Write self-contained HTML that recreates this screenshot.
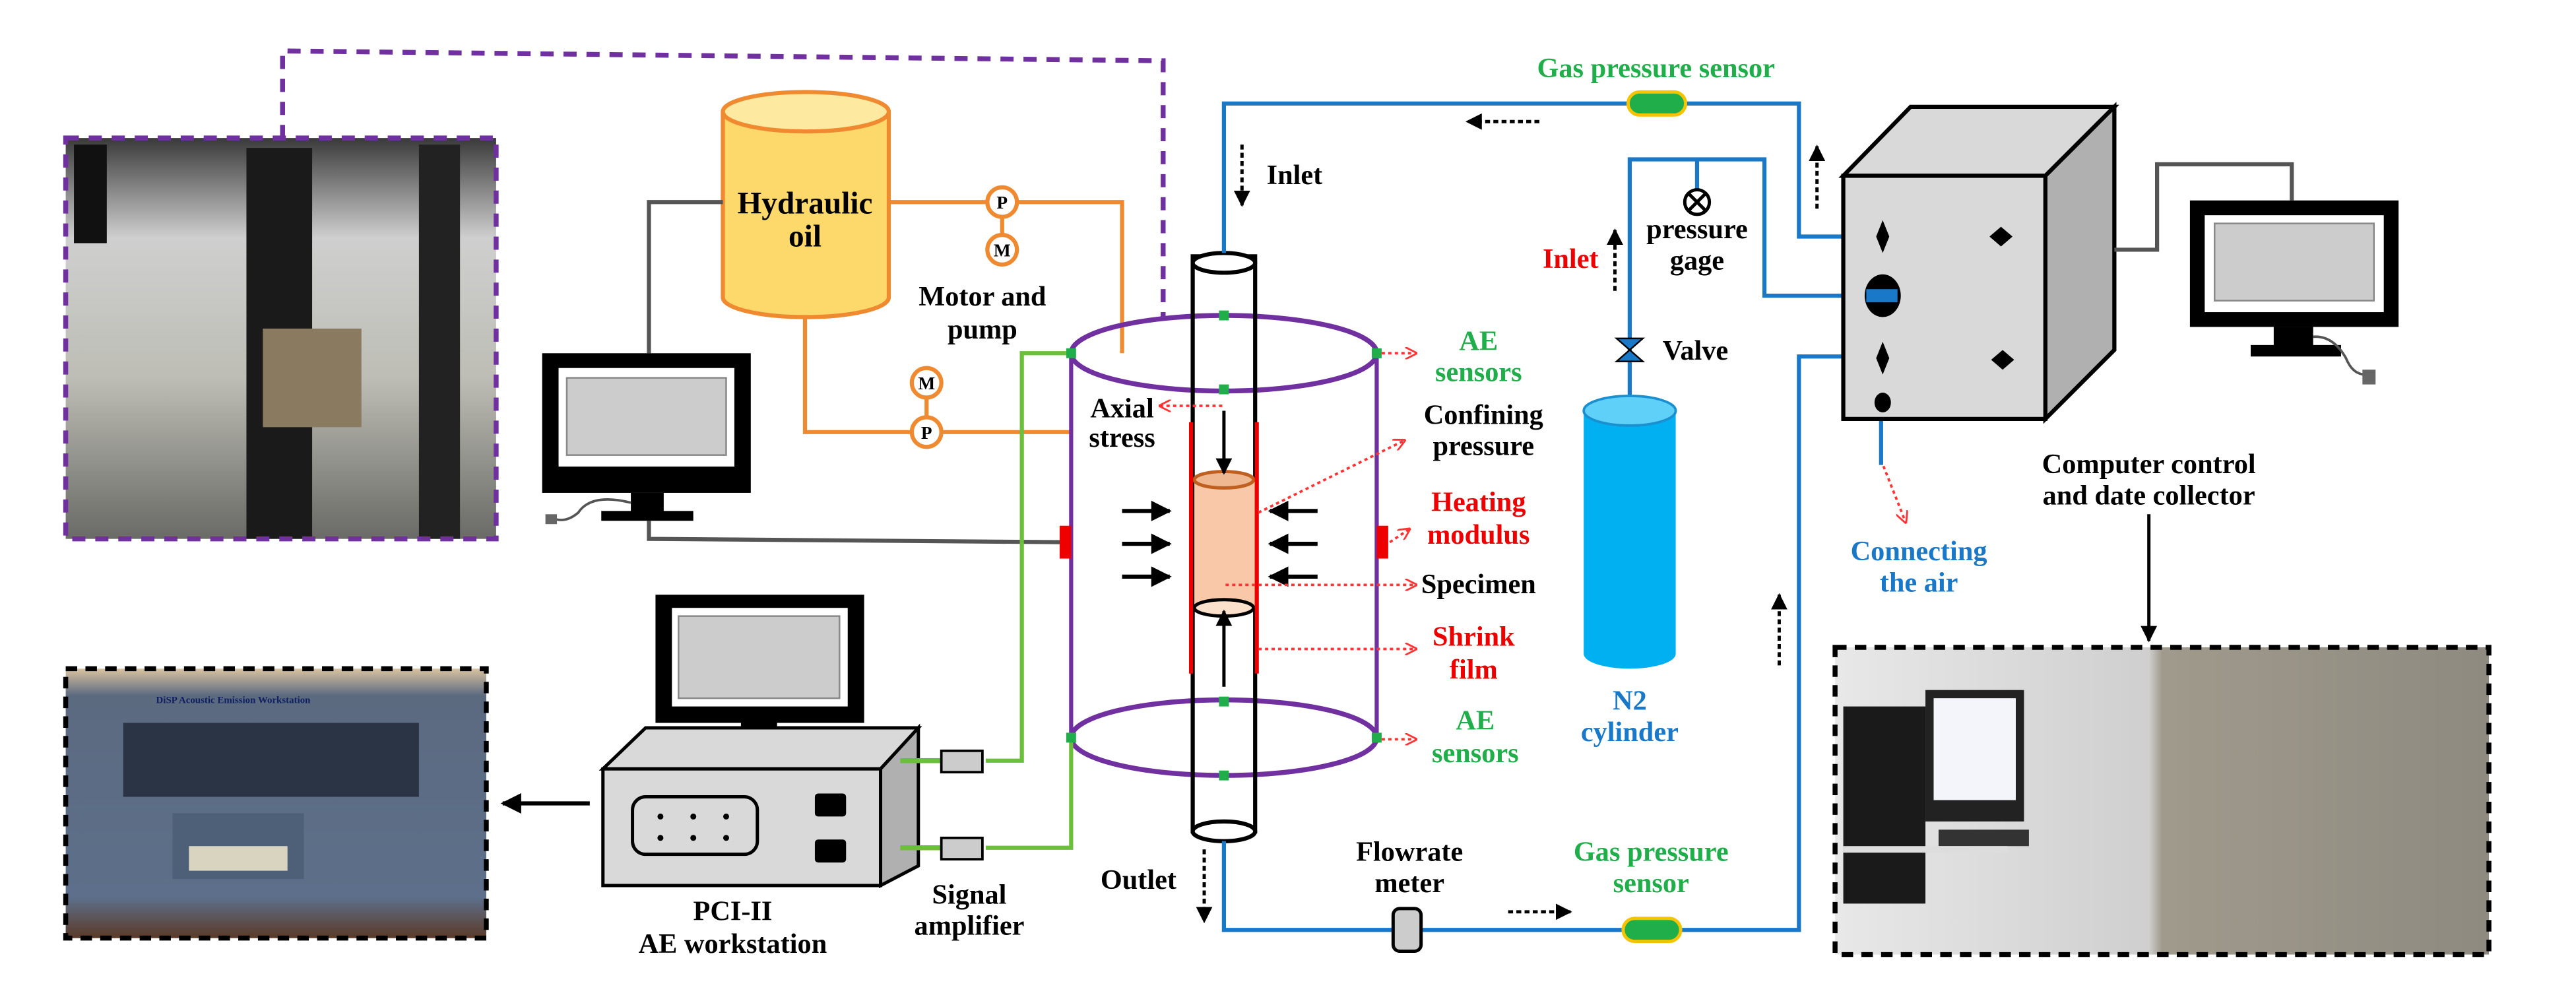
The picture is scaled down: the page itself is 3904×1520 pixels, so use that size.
<!DOCTYPE html>
<html><head><meta charset="utf-8"><style>
html,body{margin:0;padding:0;background:#fff;}
svg{display:block;}
text{font-family:"Liberation Serif",serif;font-weight:bold;}
</style></head><body>
<svg width="3904" height="1520" viewBox="0 0 1568 610.5" preserveAspectRatio="none" xmlns="http://www.w3.org/2000/svg">
<defs>
<marker id="ab" viewBox="0 0 10 10" refX="9" refY="5" markerWidth="6" markerHeight="6" orient="auto"><path d="M0,0 L10,5 L0,10 z" fill="#000"/></marker>
<marker id="ar" viewBox="0 0 10 10" refX="9" refY="5" markerWidth="5" markerHeight="5" orient="auto"><path d="M0,0 L10,5 L0,10" fill="none" stroke="#f33" stroke-width="1.5"/></marker>
<marker id="ak" viewBox="0 0 10 10" refX="9" refY="5" markerWidth="5" markerHeight="5" orient="auto"><path d="M0,0 L10,5 L0,10 z" fill="#000"/></marker>
<linearGradient id="ph1" x1="0" y1="0" x2="0" y2="1"><stop offset="0" stop-color="#3a3a3a"/><stop offset="0.25" stop-color="#cfcfcf"/><stop offset="0.6" stop-color="#bdbdb5"/><stop offset="1" stop-color="#6a6a66"/></linearGradient>
<linearGradient id="ph2" x1="0" y1="0" x2="0" y2="1"><stop offset="0" stop-color="#d9c3a0"/><stop offset="0.1" stop-color="#5c6a80"/><stop offset="0.85" stop-color="#5d6f8a"/><stop offset="1" stop-color="#5a3a28"/></linearGradient>
<linearGradient id="ph3" x1="0" y1="0" x2="1" y2="0"><stop offset="0" stop-color="#e8e8e8"/><stop offset="0.48" stop-color="#cfcfcf"/><stop offset="0.5" stop-color="#a09a8c"/><stop offset="1" stop-color="#8e8a80"/></linearGradient>
</defs>

<!-- left photo -->
<rect x="40" y="84" width="262" height="244" fill="url(#ph1)"/>
<rect x="150" y="90" width="40" height="238" fill="#1a1a1a"/>
<rect x="160" y="200" width="60" height="60" fill="#8a7a60"/>
<rect x="45" y="88" width="20" height="60" fill="#111"/>
<rect x="255" y="88" width="25" height="240" fill="#222"/>
<rect x="40" y="84" width="262" height="244" fill="none" stroke="#7030a0" stroke-width="3" stroke-dasharray="8,6"/>
<polyline points="172,84 172,31 708,37 708,193" fill="none" stroke="#7030a0" stroke-width="3" stroke-dasharray="8,6"/>

<!-- hydraulic oil -->
<path d="M440,68 L440,181 A50.5,12 0 0 0 541,181 L541,68" fill="#fcd96a" stroke="#f08a30" stroke-width="2.5"/>
<ellipse cx="490.5" cy="68" rx="50.5" ry="12" fill="#fde9a0" stroke="#f08a30" stroke-width="2.5"/>
<text x="490" y="130" font-size="19" text-anchor="middle">Hydraulic</text>
<text x="490" y="150" font-size="19" text-anchor="middle">oil</text>
<polyline points="440,123 395,123 395,215" fill="none" stroke="#555" stroke-width="2.5"/>
<polyline points="541,123 683,123 683,215" fill="none" stroke="#f08a30" stroke-width="2.5"/>
<line x1="610" y1="123" x2="610" y2="152" stroke="#f08a30" stroke-width="2.5"/>
<ellipse cx="610" cy="123" rx="9" ry="9" fill="#fff" stroke="#f08a30" stroke-width="2.5"/><text x="610" y="127" font-size="11" text-anchor="middle">P</text>
<ellipse cx="610" cy="152" rx="9" ry="9" fill="#fff" stroke="#f08a30" stroke-width="2.5"/><text x="610" y="156" font-size="11" text-anchor="middle">M</text>
<text x="598" y="186" font-size="17" text-anchor="middle">Motor and</text>
<text x="598" y="206" font-size="17" text-anchor="middle">pump</text>
<polyline points="490,193 490,263 652,263" fill="none" stroke="#f08a30" stroke-width="2.5"/>
<line x1="564" y1="233" x2="564" y2="263" stroke="#f08a30" stroke-width="2.5"/>
<ellipse cx="564" cy="233" rx="9" ry="9" fill="#fff" stroke="#f08a30" stroke-width="2.5"/><text x="564" y="237" font-size="11" text-anchor="middle">M</text>
<ellipse cx="564" cy="263" rx="9" ry="9" fill="#fff" stroke="#f08a30" stroke-width="2.5"/><text x="564" y="267" font-size="11" text-anchor="middle">P</text>

<!-- left monitor -->
<rect x="330" y="215" width="127" height="85" fill="#000"/>
<rect x="340" y="224" width="107" height="60" fill="#fff"/>
<rect x="345" y="230" width="97" height="47" fill="#ccc" stroke="#888"/>
<rect x="384" y="300" width="20" height="12" fill="#000"/>
<rect x="366" y="311" width="56" height="6" fill="#000"/>
<path d="M384,306 Q360,300 352,312 Q345,318 338,316" fill="none" stroke="#555" stroke-width="1.5"/>
<rect x="332" y="313" width="7" height="6" fill="#666"/>
<polyline points="395,317 395,328 646,330" fill="none" stroke="#555" stroke-width="2.5"/>

<!-- cell -->
<line x1="652" y1="215" x2="652" y2="449" stroke="#7030a0" stroke-width="2.5"/>
<line x1="838" y1="215" x2="838" y2="449" stroke="#7030a0" stroke-width="2.5"/>
<ellipse cx="745" cy="215" rx="93" ry="23" fill="none" stroke="#7030a0" stroke-width="3"/>
<ellipse cx="745" cy="449" rx="93" ry="23" fill="none" stroke="#7030a0" stroke-width="3"/>
<!-- tube -->
<rect x="726" y="156" width="38" height="350" fill="#fff" fill-opacity="0" stroke="#000" stroke-width="2.5"/>
<ellipse cx="745" cy="160" rx="19" ry="6" fill="#fff" stroke="#000" stroke-width="2.5"/>
<ellipse cx="745" cy="506" rx="19" ry="6" fill="#fff" stroke="#000" stroke-width="2.5"/>
<rect x="727" y="292" width="37" height="77" fill="#f8c8a8"/>
<ellipse cx="745" cy="292" rx="18" ry="5" fill="#f0b890" stroke="#c06020" stroke-width="2"/>
<ellipse cx="745" cy="370" rx="18" ry="5" fill="#fbe0cc" stroke="#000" stroke-width="2"/>
<line x1="725" y1="257" x2="725" y2="410" stroke="#e00" stroke-width="2.5"/>
<line x1="765" y1="257" x2="765" y2="410" stroke="#e00" stroke-width="2.5"/>
<line x1="745" y1="250" x2="745" y2="288" stroke="#000" stroke-width="2" marker-end="url(#ak)"/>
<line x1="745" y1="418" x2="745" y2="372" stroke="#000" stroke-width="2" marker-end="url(#ak)"/>
<g stroke="#000" stroke-width="2.5">
<line x1="683" y1="311" x2="712" y2="311" marker-end="url(#ak)"/>
<line x1="683" y1="331" x2="712" y2="331" marker-end="url(#ak)"/>
<line x1="683" y1="351" x2="712" y2="351" marker-end="url(#ak)"/>
<line x1="802" y1="311" x2="773" y2="311" marker-end="url(#ak)"/>
<line x1="802" y1="331" x2="773" y2="331" marker-end="url(#ak)"/>
<line x1="802" y1="351" x2="773" y2="351" marker-end="url(#ak)"/>
</g>
<rect x="645" y="320" width="7" height="20" fill="#e00"/>
<rect x="838" y="320" width="7" height="20" fill="#e00"/>
<g fill="#1fae4a">
<rect x="649" y="212" width="6" height="6"/><rect x="835" y="212" width="6" height="6"/>
<rect x="742" y="189" width="6" height="6"/><rect x="742" y="234" width="6" height="6"/>
<rect x="649" y="446" width="6" height="6"/><rect x="835" y="446" width="6" height="6"/>
<rect x="742" y="424" width="6" height="6"/><rect x="742" y="469" width="6" height="6"/>
</g>

<!-- red dotted annotation arrows -->
<g stroke="#f33" stroke-width="1.5" stroke-dasharray="2,2" fill="none" marker-end="url(#ar)">
<line x1="744" y1="247" x2="706" y2="247"/>
<line x1="841" y1="215" x2="862" y2="215"/>
<line x1="766" y1="312" x2="855" y2="268"/>
<line x1="846" y1="330" x2="858" y2="322"/>
<line x1="746" y1="356" x2="862" y2="356"/>
<line x1="766" y1="395" x2="862" y2="395"/>
<line x1="841" y1="450" x2="862" y2="450"/>
<line x1="1145" y1="280" x2="1160" y2="318"/>
</g>
<text x="683" y="254" font-size="17" text-anchor="middle">Axial</text>
<text x="683" y="272" font-size="17" text-anchor="middle">stress</text>
<text x="900" y="213" font-size="17" text-anchor="middle" fill="#1fae4a">AE</text>
<text x="900" y="232" font-size="17" text-anchor="middle" fill="#1fae4a">sensors</text>
<text x="903" y="258" font-size="17" text-anchor="middle">Confining</text>
<text x="903" y="277" font-size="17" text-anchor="middle">pressure</text>
<text x="900" y="311" font-size="17" text-anchor="middle" fill="#e00">Heating</text>
<text x="900" y="331" font-size="17" text-anchor="middle" fill="#e00">modulus</text>
<text x="900" y="361" font-size="17" text-anchor="middle">Specimen</text>
<text x="897" y="393" font-size="17" text-anchor="middle" fill="#e00">Shrink</text>
<text x="897" y="413" font-size="17" text-anchor="middle" fill="#e00">film</text>
<text x="898" y="444" font-size="17" text-anchor="middle" fill="#1fae4a">AE</text>
<text x="898" y="464" font-size="17" text-anchor="middle" fill="#1fae4a">sensors</text>

<!-- blue gas lines -->
<g fill="none" stroke="#1a78c8" stroke-width="2.5">
<polyline points="745,154 745,63 1095,63 1095,144 1122,144"/>
<polyline points="992,245 992,97 1074,97 1074,180 1122,180"/>
<line x1="1033" y1="97" x2="1033" y2="115"/>
<polyline points="1122,217 1095,217 1095,566 745,566 745,512"/>
<line x1="1145" y1="255" x2="1145" y2="283"/>
</g>
<rect x="991" y="56" width="35" height="14" rx="7" fill="#1fae4a" stroke="#f5c400" stroke-width="2"/>
<rect x="988" y="559" width="35" height="14" rx="7" fill="#1fae4a" stroke="#f5c400" stroke-width="2"/>
<rect x="848" y="553" width="17" height="26" rx="4" fill="#ccc" stroke="#000" stroke-width="2"/>
<text x="1008" y="47" font-size="17" text-anchor="middle" fill="#1fae4a">Gas pressure sensor</text>
<text x="1005" y="524" font-size="17" text-anchor="middle" fill="#1fae4a">Gas pressure</text>
<text x="1005" y="543" font-size="17" text-anchor="middle" fill="#1fae4a">sensor</text>
<text x="858" y="524" font-size="17" text-anchor="middle">Flowrate</text>
<text x="858" y="543" font-size="17" text-anchor="middle">meter</text>
<text x="693" y="541" font-size="17" text-anchor="middle">Outlet</text>
<text x="771" y="112" font-size="17">Inlet</text>
<g stroke="#000" stroke-width="2" stroke-dasharray="3,2" fill="none" marker-end="url(#ak)">
<line x1="937" y1="74" x2="893" y2="74"/>
<line x1="756" y1="88" x2="756" y2="125"/>
<line x1="1106" y1="127" x2="1106" y2="89"/>
<line x1="983" y1="177" x2="983" y2="140"/>
<line x1="733" y1="517" x2="733" y2="561"/>
<line x1="918" y1="555" x2="956" y2="555"/>
<line x1="1083" y1="405" x2="1083" y2="362"/>
</g>
<!-- pressure gage -->
<circle cx="1033" cy="123" r="7.5" fill="#fff" stroke="#000" stroke-width="2"/>
<path d="M1028,118 L1038,128 M1038,118 L1028,128" stroke="#000" stroke-width="2"/>
<text x="1033" y="145" font-size="17" text-anchor="middle">pressure</text>
<text x="1033" y="164" font-size="17" text-anchor="middle">gage</text>
<text x="973" y="163" font-size="17" text-anchor="end" fill="#e00">Inlet</text>
<!-- valve -->
<path d="M984,206 L1000,206 L984,220 L1000,220 Z" fill="#1a78c8" stroke="#000" stroke-width="1"/>
<text x="1012" y="219" font-size="17">Valve</text>
<!-- N2 -->
<path d="M964,250 L964,398 A28,9 0 0 0 1020,398 L1020,250" fill="#00b0f0"/>
<ellipse cx="992" cy="250" rx="28" ry="9" fill="#5fd0f7" stroke="#1a90d0" stroke-width="1.5"/>
<text x="992" y="432" font-size="17" text-anchor="middle" fill="#1a78c8">N2</text>
<text x="992" y="451" font-size="17" text-anchor="middle" fill="#1a78c8">cylinder</text>

<!-- control box -->
<polygon points="1122,107 1163,65 1287,65 1245,107" fill="#d9d9d9" stroke="#000" stroke-width="2.5"/>
<polygon points="1245,107 1287,65 1287,213 1245,255" fill="#b0b0b0" stroke="#000" stroke-width="2.5"/>
<rect x="1122" y="107" width="123" height="148" fill="#d9d9d9" stroke="#000" stroke-width="2.5"/>
<path d="M1146,134 L1150,144 L1146,154 L1142,144 Z M1146,208 L1150,218 L1146,228 L1142,218 Z" fill="#000"/>
<path d="M1218,138 L1225,144 L1218,150 L1211,144 Z M1219,213 L1226,219 L1219,225 L1212,219 Z" fill="#000"/>
<ellipse cx="1146" cy="180" rx="11" ry="13" fill="#000"/>
<rect x="1136" y="176" width="19" height="8" fill="#1a78c8"/>
<ellipse cx="1146" cy="245" rx="5" ry="6" fill="#000"/>
<text x="1168" y="341" font-size="17" text-anchor="middle" fill="#1a78c8">Connecting</text>
<text x="1168" y="360" font-size="17" text-anchor="middle" fill="#1a78c8">the air</text>
<polyline points="1287,152 1313,152 1313,100 1395,100 1395,122" fill="none" stroke="#555" stroke-width="2.5"/>
<!-- right monitor -->
<rect x="1333" y="122" width="127" height="77" fill="#000"/>
<rect x="1342" y="131" width="109" height="59" fill="#fff"/>
<rect x="1348" y="136" width="97" height="47" fill="#ccc" stroke="#888"/>
<rect x="1384" y="199" width="24" height="12" fill="#000"/>
<rect x="1370" y="210" width="55" height="7" fill="#000"/>
<path d="M1408,205 Q1420,204 1428,218 Q1432,228 1440,228" fill="none" stroke="#555" stroke-width="1.5"/>
<rect x="1438" y="225" width="8" height="9" fill="#666"/>
<text x="1308" y="288" font-size="17" text-anchor="middle">Computer control</text>
<text x="1308" y="307" font-size="17" text-anchor="middle">and date collector</text>
<line x1="1308" y1="313" x2="1308" y2="390" stroke="#000" stroke-width="2" marker-end="url(#ak)"/>
<!-- right photo -->
<rect x="1117" y="394" width="398" height="187" fill="url(#ph3)"/>
<rect x="1122" y="430" width="50" height="120" fill="#1a1a1a"/>
<rect x="1172" y="420" width="60" height="80" fill="#222"/>
<rect x="1177" y="425" width="50" height="62" fill="#f4f4fb"/>
<rect x="1180" y="505" width="55" height="10" fill="#333"/>
<rect x="1122" y="515" width="100" height="4" fill="#ddd"/>
<rect x="1117" y="394" width="398" height="187" fill="none" stroke="#000" stroke-width="3" stroke-dasharray="7,5"/>

<!-- PCI workstation -->
<rect x="399" y="362" width="127" height="78" fill="#000"/>
<rect x="409" y="370" width="107" height="60" fill="#fff"/>
<rect x="413" y="375" width="98" height="50" fill="#ccc" stroke="#888"/>
<rect x="451" y="440" width="22" height="13" fill="#000"/>
<rect x="435" y="452" width="56" height="6" fill="#000"/>
<polygon points="367,468 393,443 559,443 536,468" fill="#d9d9d9" stroke="#000" stroke-width="2"/>
<polygon points="536,468 559,443 559,527 536,539" fill="#b0b0b0" stroke="#000" stroke-width="2"/>
<rect x="367" y="468" width="169" height="71" fill="#d9d9d9" stroke="#000" stroke-width="2"/>
<rect x="385" y="485" width="76" height="35" rx="8" fill="#d9d9d9" stroke="#000" stroke-width="2"/>
<g fill="#000"><circle cx="402" cy="497" r="1.8"/><circle cx="422" cy="497" r="1.8"/><circle cx="442" cy="497" r="1.8"/><circle cx="402" cy="510" r="1.8"/><circle cx="422" cy="510" r="1.8"/><circle cx="442" cy="510" r="1.8"/></g>
<rect x="496" y="483" width="19" height="14" rx="2" fill="#000"/>
<rect x="496" y="511" width="19" height="14" rx="2" fill="#000"/>
<polyline points="548,463 573,463" stroke="#6cbf3a" stroke-width="3"/>
<polyline points="548,516 573,516" stroke="#6cbf3a" stroke-width="3"/>
<polyline points="600,463 622,463 622,215 649,215" fill="none" stroke="#6cbf3a" stroke-width="2.5"/>
<polyline points="600,516 652,516 652,452" fill="none" stroke="#6cbf3a" stroke-width="2.5"/>
<rect x="573" y="457" width="25" height="13" fill="#ccc" stroke="#000" stroke-width="1.5"/>
<rect x="573" y="510" width="25" height="13" fill="#ccc" stroke="#000" stroke-width="1.5"/>
<text x="446" y="560" font-size="17" text-anchor="middle">PCI-II</text>
<text x="446" y="580" font-size="17" text-anchor="middle">AE workstation</text>
<text x="590" y="550" font-size="17" text-anchor="middle">Signal</text>
<text x="590" y="569" font-size="17" text-anchor="middle">amplifier</text>
<line x1="359" y1="489" x2="306" y2="489" stroke="#000" stroke-width="2.5" marker-end="url(#ak)"/>
<!-- AE photo -->
<rect x="40" y="407" width="256" height="164" fill="url(#ph2)"/>
<rect x="75" y="440" width="180" height="45" fill="#2a3444"/>
<rect x="105" y="495" width="80" height="40" fill="#4e6078"/>
<rect x="115" y="515" width="60" height="15" fill="#d8d4c0"/>
<text x="95" y="428" font-size="6" fill="#102060">DiSP Acoustic Emission Workstation</text>
<rect x="40" y="407" width="256" height="164" fill="none" stroke="#000" stroke-width="3" stroke-dasharray="7,5"/>
</svg>
</body></html>
